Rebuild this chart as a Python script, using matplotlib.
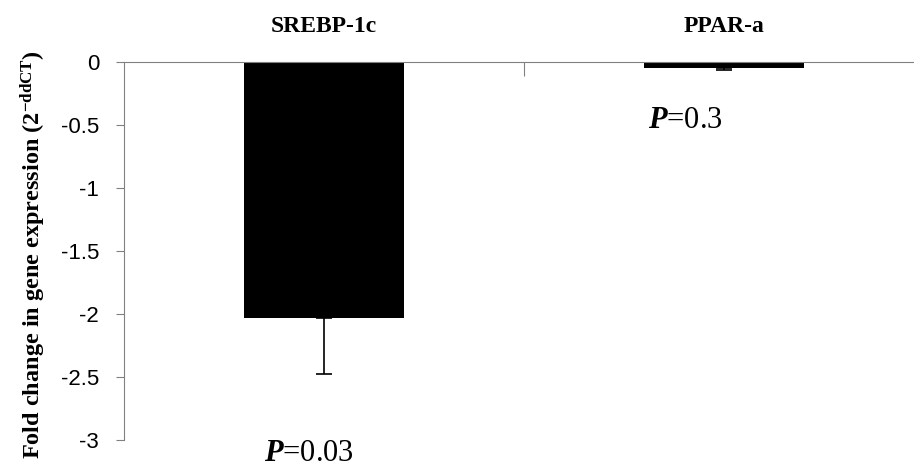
import numpy as np
import matplotlib
matplotlib.use("Agg")
import matplotlib.pyplot as plt

# values
genes = ["SREBP-1c", "PPAR-a"]
fold_change = [-2.03, -0.05]
err_down = [0.45, 0.015]
p_labels = ["0.03", "0.3"]
p_pos = [(0.85, -3.17), (1.81, -0.52)]
yticks = [0, -0.5, -1, -1.5, -2, -2.5, -3]

plt.rcParams['mathtext.fontset'] = 'custom'
plt.rcParams['mathtext.rm'] = 'Liberation Serif'
plt.rcParams['mathtext.bf'] = 'Liberation Serif:bold'
plt.rcParams['mathtext.it'] = 'Liberation Serif:italic'
plt.rcParams['mathtext.bfit'] = 'Liberation Serif:bold:italic'

fig = plt.figure(figsize=(9.14, 4.68), dpi=100)
ax = fig.add_axes([124/914, 28/468, 800/914, 378/468])

x = np.arange(1, len(genes) + 1)
ax.bar(x, fold_change, width=0.4, color='black')
ax.errorbar(x, fold_change, yerr=[err_down, [0]*len(genes)], fmt='none',
            ecolor='black', elinewidth=1.2, capsize=5.5, capthick=1.2)

ax.set_xlim(0.5, 2.5)
ax.set_ylim(-3, 0)
ax.set_yticks(yticks)
ax.set_yticklabels([f"{t:g}" for t in yticks], fontsize=16, family='Liberation Sans')

ax.spines['top'].set_visible(False)
ax.spines['right'].set_visible(False)
ax.spines['bottom'].set_position(('data', 0))
ax.spines['bottom'].set_color('#808080')
ax.spines['left'].set_color('#808080')
ax.set_xticks([1.5])
ax.set_xticklabels([])
ax.tick_params(axis='x', direction='out', length=10, color='#808080')
ax.tick_params(axis='y', direction='out', length=6, color='#808080', pad=12)

# gene names above the axis
for xi, g in zip(x, genes):
    ax.text(xi, 0.238, g, ha='center', va='baseline', fontsize=17,
            fontweight='bold', family='Liberation Serif', clip_on=False)

# P values
for (px, py), p in zip(p_pos, p_labels):
    ax.text(px, py, r"$\boldsymbol{P}$=" + p, ha='left', va='baseline', fontsize=22,
            family='Liberation Serif', clip_on=False)

ax.set_ylabel(r"Fold change in gene expression (2$^{\mathbf{-ddCT}}$)",
              fontsize=17.5, fontweight='bold', family='Liberation Serif')
ax.yaxis.label.set_va('center')
ax.yaxis.set_label_coords(-0.113, 0.49)

fig.savefig("out.png", dpi=100)
